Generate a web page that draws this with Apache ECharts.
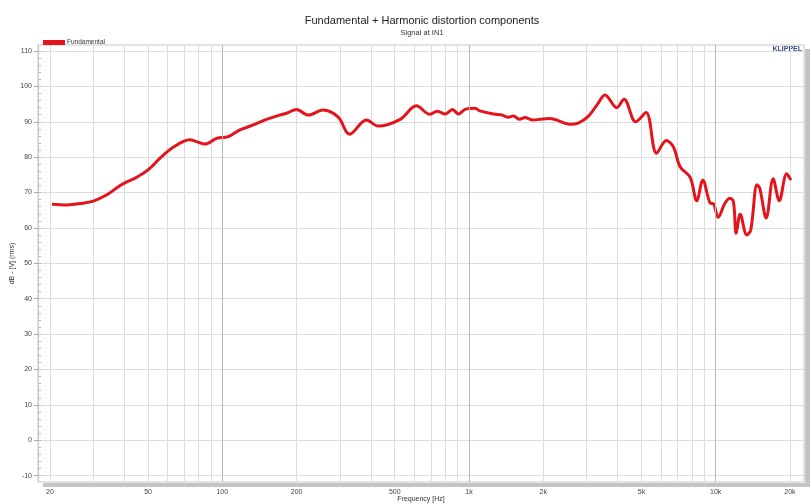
<!DOCTYPE html>
<html lang="en">
<head>
    <meta charset="UTF-8">
    <title>Fundamental + Harmonic distortion components</title>
    <script src="https://cdn.jsdelivr.net/npm/echarts@6/dist/echarts.min.js"></script>
    <style>
        html, body { margin: 0; padding: 0; background: #fff; }
    </style>
</head>
<body>
    <div id="chart" style="width: 810px;height:504px;"></div>
    <script type="text/javascript">

        // frequency (Hz) and level (dB)
        var freqs = [20.4, 23.4, 27.3, 30, 33.9, 38.4, 41, 44.9, 50, 55.9, 63.2, 73.8, 78.6, 85, 94.8, 105.7,
            117.8, 133.5, 151, 171, 182, 200, 223, 256, 295, 328, 384, 428, 526, 612, 694, 744, 800, 858,
            905, 964, 1057, 1106, 1256, 1360, 1444, 1512, 1606, 1683, 1820, 1940, 2126, 2572, 2785, 3050,
            3298, 3560, 3970, 4250, 4740, 5220, 5760, 6310, 6750, 7170, 7880, 8380, 8870, 9500, 9800,
            10230, 10900, 11430, 11800, 12110, 12570, 13370, 13870, 14710, 15090, 16020, 17100, 18100,
            19400, 20170];
        var levels = [66.7, 66.5, 67.0, 67.6, 69.3, 71.9, 73.0, 74.3, 76.4, 79.7, 82.8, 84.9, 84.4, 83.7, 85.3, 85.8,
            87.7, 89.1, 90.7, 91.9, 92.4, 93.5, 91.9, 93.3, 91.3, 86.5, 90.5, 88.8, 90.7, 94.5, 92.1, 93.0, 92.2, 93.5,
            92.2, 93.5, 93.8, 93.1, 92.2, 91.9, 91.3, 91.6, 90.7, 91.2, 90.5, 90.7, 90.9, 89.3, 89.7, 91.6,
            94.7, 97.6, 94.0, 96.4, 90.0, 92.6, 81.1, 84.7, 82.8, 77.3, 74.3, 67.7, 73.5, 67.0, 66.8,
            63.0, 67.0, 68.4, 67.4, 58.5, 63.9, 58.0, 59.4, 72.2, 71.2, 62.8, 73.9, 67.7,
            75.3, 73.5];

        var xLabelFreqs = [20, 50, 100, 200, 500, 1000, 2000, 5000, 10000, 20000];
        var xGridFreqs = [20, 30, 40, 50, 60, 70, 80, 90, 100, 200, 300, 400, 500, 600, 700, 800, 900,
            1000, 2000, 3000, 4000, 5000, 6000, 7000, 8000, 9000, 10000, 20000];
        var xDecades = [100, 1000, 10000];
        var yLabels = [-10, 0, 10, 20, 30, 40, 50, 60, 70, 80, 90, 100, 110];
        var yMinorTicks = [];
        for (var t = -10; t <= 110; t += 2) yMinorTicks.push(t);

        function lg(f) { return Math.log10(f); }
        function fmtFreq(v) {
            var f = Math.round(Math.pow(10, v));
            return f >= 1000 ? (f / 1000) + 'k' : '' + f;
        }

        var seriesData = [];
        for (var i = 0; i < freqs.length; i++) {
            seriesData.push([lg(freqs[i]), levels[i]]);
        }

        var chart = echarts.init(document.getElementById('chart'));
        var font = 'Liberation Sans, Arial, sans-serif';

        chart.setOption({
            animation: false,
            backgroundColor: '#fff',
            title: {
                text: 'Fundamental + Harmonic distortion components',
                subtext: 'Signal at IN1',
                left: 417,
                textAlign: 'center',
                top: 10,
                itemGap: 3,
                textStyle: { fontFamily: font, fontSize: 11, fontWeight: 'normal', color: '#222' },
                subtextStyle: { fontFamily: font, fontSize: 7.5, color: '#333' }
            },
            legend: {
                left: 38,
                top: 34,
                itemWidth: 22,
                itemHeight: 5,
                itemGap: 5,
                icon: 'rect',
                data: ['Fundamental'],
                textStyle: { fontFamily: font, fontSize: 6.5, color: '#333', padding: [0, 0, 0, -3] }
            },
            grid: {
                left: 38,
                right: 6,
                top: 45,
                bottom: 22,
                containLabel: false,
                outerBoundsMode: 'none',
                show: true,
                borderColor: '#c8c8c8',
                borderWidth: 1
            },
            graphic: [
                { type: 'rect', shape: { x: 43, y: 483, width: 767, height: 4 }, style: { fill: '#c4c4c4' }, silent: true },
                { type: 'rect', shape: { x: 805, y: 49, width: 5, height: 438 }, style: { fill: '#c4c4c4' }, silent: true },
                {
                    type: 'text', right: 8, top: 46, silent: true,
                    style: { text: 'KLIPPEL', fontFamily: font, fontSize: 7, fontWeight: 'bold', fill: '#3b4f8a' }
                }
            ],
            xAxis: {
                type: 'value',
                min: lg(17.9),
                max: lg(22800),
                name: 'Frequency [Hz]',
                nameLocation: 'middle',
                nameGap: 14,
                nameMoveOverlap: false,
                nameTextStyle: { fontFamily: font, fontSize: 7, color: '#333' },
                axisLine: { show: false },
                axisTick: { show: false, customValues: xGridFreqs.map(lg) },
                axisLabel: {
                    customValues: xLabelFreqs.map(lg),
                    formatter: fmtFreq,
                    margin: 7,
                    fontFamily: font,
                    fontSize: 7,
                    color: '#444'
                },
                splitLine: { show: true, lineStyle: { color: '#dcdcdc', width: 1 } }
            },
            yAxis: [{
                type: 'value',
                min: -11.8,
                max: 111.7,
                name: 'dB - [V] (rms)',
                nameLocation: 'middle',
                nameGap: 22,
                nameMoveOverlap: false,
                nameTextStyle: { fontFamily: font, fontSize: 7, color: '#333' },
                axisLine: { show: true, lineStyle: { color: '#c8c8c8' } },
                axisTick: { show: true, length: 4, customValues: yLabels, lineStyle: { color: '#aaa' } },
                axisLabel: { customValues: yLabels, margin: 6, fontFamily: font, fontSize: 7, color: '#444' },
                splitLine: { show: true, lineStyle: { color: '#dcdcdc', width: 1 } }
            }, {
                type: 'value',
                min: -11.8,
                max: 111.7,
                position: 'left',
                axisLine: { show: false },
                axisTick: { show: true, inside: true, length: 3, customValues: yMinorTicks, lineStyle: { color: '#bbb' } },
                axisLabel: { show: false },
                splitLine: { show: false }
            }],
            series: [{
                name: 'decades',
                type: 'line',
                data: [],
                z: 1,
                silent: true,
                markLine: {
                    silent: true,
                    symbol: 'none',
                    label: { show: false },
                    lineStyle: { color: '#b8b8b8', width: 1, type: 'solid' },
                    data: xDecades.map(function (f) { return { xAxis: lg(f) }; })
                }
            }, {
                name: 'Fundamental',
                type: 'line',
                data: seriesData,
                z: 3,
                smooth: 0.35,
                showSymbol: false,
                color: '#e3141b',
                lineStyle: { width: 3, color: '#e3141b' }
            }]
        });

    </script>
</body>
</html>
